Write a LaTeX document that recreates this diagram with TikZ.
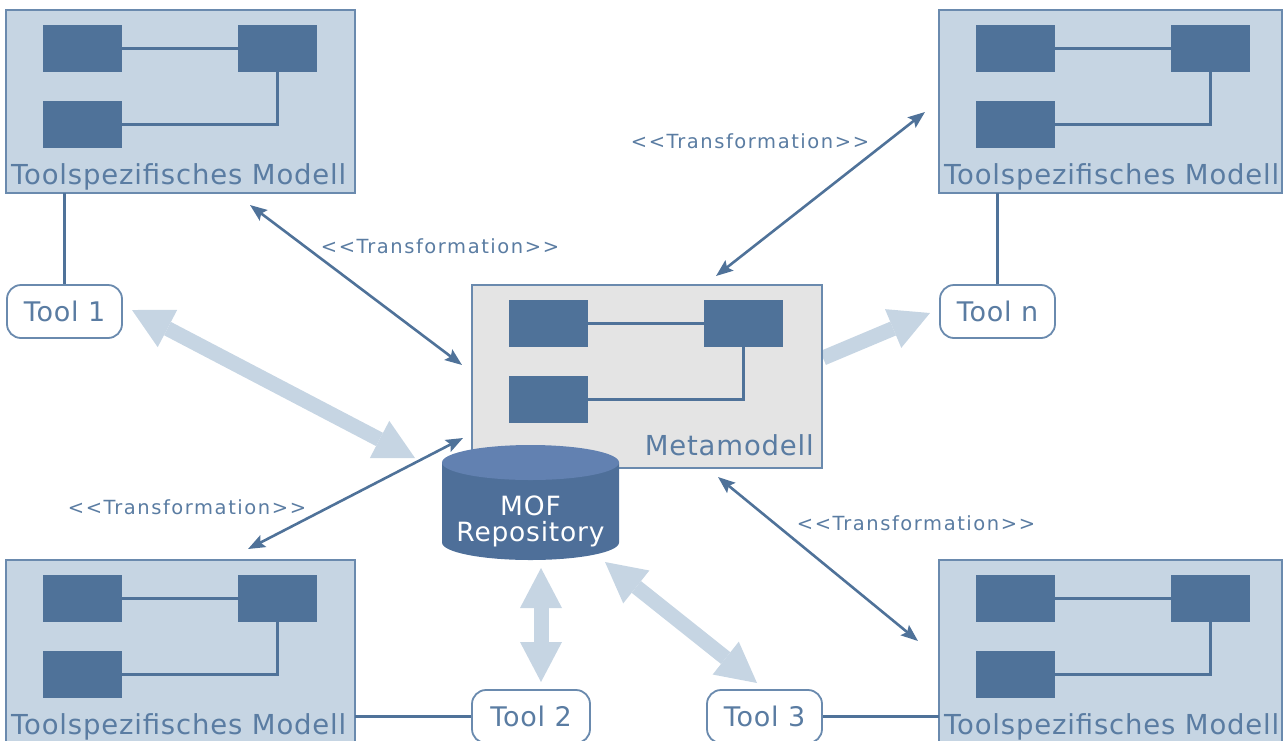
\documentclass[tikz,border=0pt]{standalone}
\usepackage{fontspec}
\setmainfont{DejaVu Sans}
\newfontfamily\labelfont[LetterSpace=3]{DejaVu Sans}
\newfontfamily\trafofont[LetterSpace=8]{DejaVu Sans}
\usetikzlibrary{arrows.meta}

\definecolor{boxblue}{HTML}{C6D5E3}
\definecolor{frameblue}{HTML}{6A8AAE}
\definecolor{darkblue}{HTML}{4F7299}
\definecolor{textblue}{HTML}{5A7CA2}
\definecolor{metagray}{HTML}{E4E4E4}
\definecolor{lightarrow}{HTML}{C6D5E3}
\definecolor{cyltop}{HTML}{6281B1}
\definecolor{cylbody}{HTML}{4E6F99}

\tikzset{
  modelframe/.style={draw=frameblue, line width=2pt, anchor=north west,
    minimum height=183pt, inner sep=0pt, outer sep=0pt},
  classbox/.style={fill=darkblue, anchor=north west, minimum width=79pt,
    minimum height=47pt, inner sep=0pt, outer sep=0pt},
  assoc/.style={darkblue, line width=2.5pt},
  toolbox/.style={draw=frameblue, fill=white, line width=1.8pt,
    rounded corners=14pt, minimum width=115pt, minimum height=53pt,
    inner sep=0pt, text=textblue, font=\labelfont\fontsize{27}{30}\selectfont},
  boxlabel/.style={text=textblue, font=\labelfont\fontsize{27.5}{30}\selectfont,
    inner sep=0pt},
  repolabel/.style={text=white, inner sep=0pt, anchor=base,
    font=\labelfont\fontsize{26.5}{30}\selectfont},
  trafo/.style={darkblue, line width=2.6pt,
    {Stealth[length=17pt,width=13pt,inset=3pt]}-{Stealth[length=17pt,width=13pt,inset=3pt]}},
  trafolabel/.style={text=textblue, font=\trafofont\fontsize{19.5}{22}\selectfont,
    inner sep=0pt},
  bigarrow/.style={lightarrow, line width=15pt,
    -{Triangle[length=40pt 0 0,width=42pt 0 0,line width=0pt]}},
  bigdouble/.style={lightarrow, line width=15pt,
    {Triangle[length=40pt 0 0,width=42pt 0 0,line width=0pt]}-{Triangle[length=40pt 0 0,width=42pt 0 0,line width=0pt]}},
  toolline/.style={darkblue, line width=2.2pt}
}

% a model frame holding three classes and their associations
% #1 name, #2 left, #3 top, #4 fill, #5 width
\newcommand{\modelbox}[5]{%
  \node[modelframe, fill=#4, minimum width=#5] (#1) at (#2,#3) {};
  \node[classbox] (#1-a) at ([shift={(37,15)}]#1.north west) {};
  \node[classbox] (#1-b) at ([shift={(232,15)}]#1.north west) {};
  \node[classbox] (#1-c) at ([shift={(37,91)}]#1.north west) {};
  \draw[assoc] (#1-a.east) -- (#1-b.west);
  \draw[assoc] (#1-b.south) |- (#1-c.east);
}

\begin{document}
\begin{tikzpicture}[x=1pt, y=-1pt]
\useasboundingbox (0,0) rectangle (1287,740);
\clip (0,0) rectangle (1287,740);

% tool access (light arrows, behind everything)
\coordinate (l1a) at (132,310);  \coordinate (l1b) at (415,458);
\coordinate (lna) at (823,358);  \coordinate (lnb) at (930,313);
\coordinate (l2a) at (541,568);  \coordinate (l2b) at (541,682);
\coordinate (l3a) at (605,562);  \coordinate (l3b) at (757,683);
\draw[bigdouble] (l1a) -- (l1b);
\draw[bigarrow]  (lna) -- (lnb);
\draw[bigdouble] (l2a) -- (l2b);
\draw[bigdouble] (l3a) -- (l3b);

% tool specific models
\modelbox{tl}{6}{10}{boxblue}{349pt}
\modelbox{tr}{939}{10}{boxblue}{343pt}
\modelbox{bl}{6}{560}{boxblue}{349pt}
\modelbox{br}{939}{560}{boxblue}{343pt}
\node[boxlabel, anchor=base west] (tl-l) at ([shift={(5,174)}]tl.north west) {Toolspezifisches Modell};
\node[boxlabel, anchor=base west] (tr-l) at ([shift={(5,174)}]tr.north west) {Toolspezifisches Modell};
\node[boxlabel, anchor=base west] (bl-l) at ([shift={(5,174)}]bl.north west) {Toolspezifisches Modell};
\node[boxlabel, anchor=base west] (br-l) at ([shift={(5,174)}]br.north west) {Toolspezifisches Modell};

% meta model
\modelbox{meta}{472}{285}{metagray}{350pt}
\node[boxlabel, anchor=base east] (meta-l) at ([shift={(-8,170)}]meta.north east) {Metamodell};

% tools
\node[toolbox] (tool1) at (64.5,311.5) {Tool 1};
\node[toolbox] (tooln) at (997.5,311.5) {Tool n};
\node[toolbox, minimum width=118pt] (tool2) at (531,716.5) {Tool 2};
\node[toolbox] (tool3) at (764.5,716.5) {Tool 3};
\draw[toolline] (tl.south -| tool1.north) -- (tool1.north);
\draw[toolline] (tr.south -| tooln.north) -- (tooln.north);
\draw[toolline] (tool2.west -| bl.east) -- (tool2.west);
\draw[toolline] (tool3.east) -- (tool3.east -| br.west);

% MOF repository cylinder
\node[minimum width=177pt, minimum height=115pt, inner sep=0pt] (mof) at (530.5,502.5) {};
\fill[cylbody] (442,462.5) -- (442,542.5)
  arc[start angle=180, end angle=0, x radius=88.5, y radius=17.5]
  -- (619,462.5) -- cycle;
\fill[cyltop] (530.5,462.5) ellipse [x radius=88.5, y radius=17.5];
\node[repolabel] (mof-a) at (530.5,515) {MOF};
\node[repolabel] (mof-b) at (530.5,541) {Repository};

% transformations
\coordinate (t1s) at (250,205);  \coordinate (t1e) at (462,365);
\coordinate (t2s) at (925,112);  \coordinate (t2e) at (716,276);
\coordinate (t3s) at (248,549);  \coordinate (t3e) at (463,438);
\coordinate (t4s) at (718,477);  \coordinate (t4e) at (918,641);
\draw[trafo] (t1s) -- (t1e);
\draw[trafo] (t2s) -- (t2e);
\draw[trafo] (t3s) -- (t3e);
\draw[trafo] (t4s) -- (t4e);
\node[trafolabel] (lab1) at (440,246) {<<Transformation>>};
\node[trafolabel] (lab2) at (750,141) {<<Transformation>>};
\node[trafolabel] (lab3) at (187,507) {<<Transformation>>};
\node[trafolabel] (lab4) at (916,523) {<<Transformation>>};
\end{tikzpicture}
\end{document}
